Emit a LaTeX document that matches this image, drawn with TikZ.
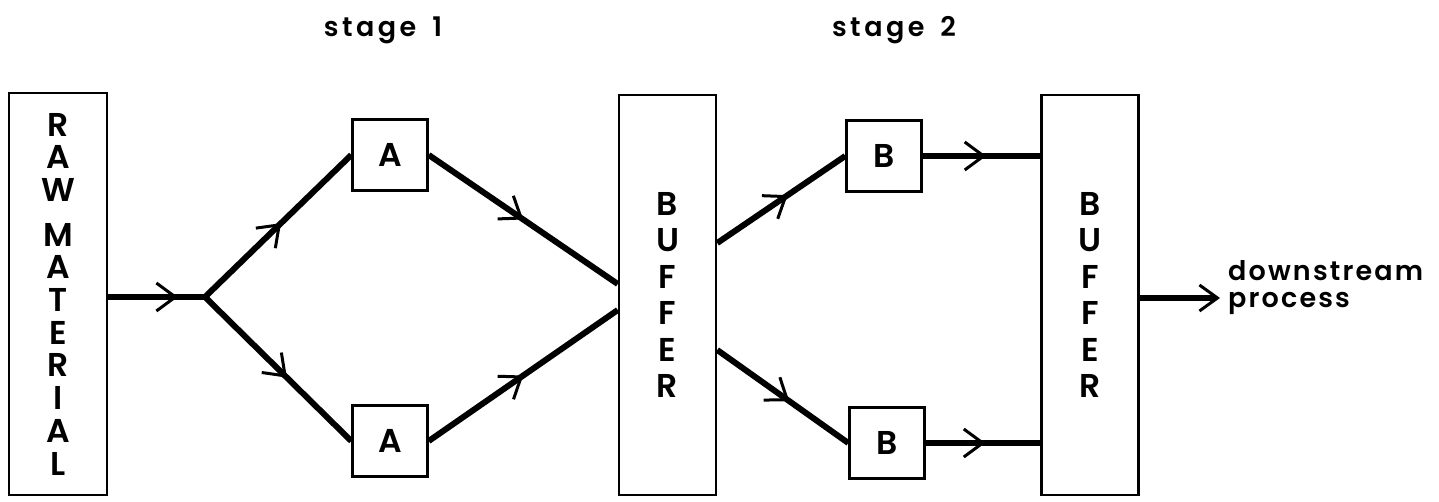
\documentclass[tikz,border=0pt]{standalone}
\usepackage{fontspec}
\setmainfont{Poppins}[UprightFont=* SemiBold]
\usetikzlibrary{arrows.meta,decorations.markings}
\begin{document}
\begin{tikzpicture}[x=1pt,y=-1pt,
  boxstyle/.style={draw, line width=2.5pt, inner sep=0pt, align=center},
  tallbox/.style={boxstyle, minimum width=97pt, minimum height=400pt, font=\fontsize{33}{36.4}\selectfont},
  smallbox/.style={boxstyle, minimum width=75pt, minimum height=71pt, font=\fontsize{33}{34}\selectfont},
  flowline/.style={line width=6pt},
  midarrow/.style={postaction={decorate,decoration={markings,mark=at position #1 with {\arrow{Straight Barb[length=19pt,width=28pt,line width=3pt]}}}}},
  lbl/.style={font=\fontsize{27}{27}\selectfont\addfontfeature{LetterSpace=8}, inner sep=0pt},
  stagelbl/.style={inner sep=0pt, anchor=base, font=\fontsize{27}{27}\selectfont\addfontfeature{LetterSpace=13}}]
\useasboundingbox (0,0) rectangle (1439,502);
\node[tallbox, minimum width=98pt, minimum height=402pt, font=\fontsize{33}{32.7}\selectfont] (raw) at (58,294) {R\\A\\W\\[12pt]M\\A\\T\\E\\R\\I\\A\\L};
\node[smallbox] (a1) at (390,155) {A};
\node[smallbox] (a2) at (390,441) {A};
\node[tallbox] (buf1) at (667.5,295) {B\\U\\F\\F\\E\\R};
\node[smallbox] (b1) at (884,156) {B};
\node[smallbox] (b2) at (887,443) {B};
\node[tallbox] (buf2) at (1090,295) {B\\U\\F\\F\\E\\R};
\coordinate (split) at (205,297);
\coordinate (out) at (1220,298);
\node[lbl, anchor=west, align=left] (down) at (1228,288) {downstream\\process};
\node[stagelbl] (s1) at (383,37) {stage\hspace{6pt} 1};
\node[stagelbl] (s2) at (894,37) {stage\hspace{6pt} 2};
\draw[flowline, midarrow=0.72] (raw.east |- split) -- (split);
\draw[flowline, midarrow=0.52] (split) -- (a1.west);
\draw[flowline, midarrow=0.56] (split) -- (a2.west);
\draw[flowline, midarrow=0.5] (a1.east) -- ([yshift=11pt]buf1.west);
\draw[flowline, midarrow=0.5] (a2.east) -- ([yshift=-15pt]buf1.west);
\draw[flowline, midarrow=0.55] ([yshift=52pt]buf1.east) -- (b1.west);
\draw[flowline, midarrow=0.55] ([yshift=-55pt]buf1.east) -- (b2.west);
\draw[flowline, midarrow=0.54] (b1.east) -- (buf2.west |- b1.east);
\draw[flowline, midarrow=0.52] (b2.east) -- (buf2.west |- b2.east);
\draw[flowline, -{Straight Barb[length=18pt,width=26pt,line width=3pt]}] (buf2.east |- out) -- (out);
\end{tikzpicture}
\end{document}
